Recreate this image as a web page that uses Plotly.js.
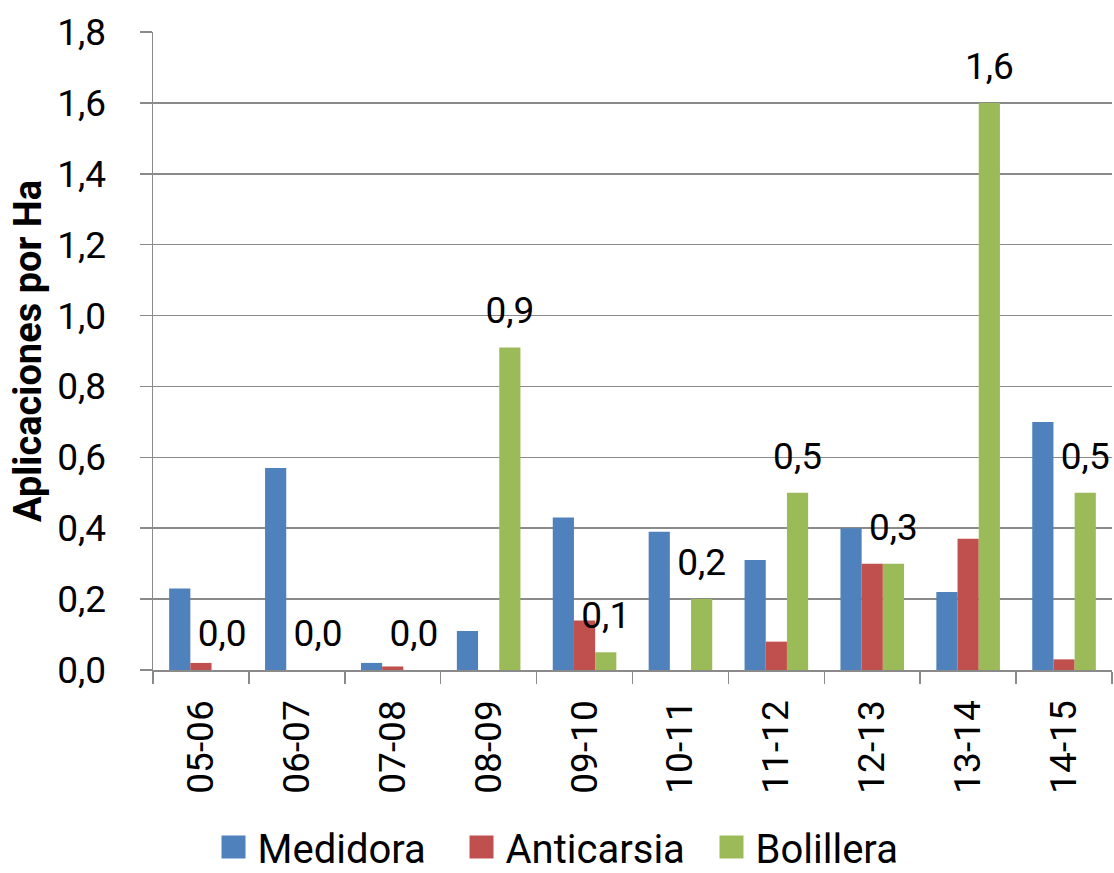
<!DOCTYPE html>
<html>
<head>
<meta charset="utf-8">
<script src="https://cdn.plot.ly/plotly-3.0.1.min.js"></script>
<style>
  html, body { margin: 0; padding: 0; background: #ffffff; }
  #chart { width: 1114px; height: 873px; }
</style>
</head>
<body>
<div id="chart"></div>
<script>
// ---- data ----
const categories = ['05-06', '06-07', '07-08', '08-09', '09-10', '10-11', '11-12', '12-13', '13-14', '14-15'];
const medidora   = [0.23, 0.57, 0.02, 0.11, 0.43, 0.39, 0.31, 0.40, 0.22, 0.70];
const anticarsia = [0.02, 0.00, 0.01, 0.00, 0.14, 0.00, 0.08, 0.30, 0.37, 0.03];
const bolillera  = [0.00, 0.00, 0.00, 0.91, 0.05, 0.20, 0.50, 0.30, 1.60, 0.50];
const seriesNames = ['Medidora', 'Anticarsia', 'Bolillera'];
const yTickValues = [0, 0.2, 0.4, 0.6, 0.8, 1.0, 1.2, 1.4, 1.6, 1.8];

const FONT = 'Roboto, "Noto Sans", "Liberation Sans", sans-serif';
const GRID = '#8a8a8a';

const traces = [
  {
    type: 'bar', name: seriesNames[0], x: categories, y: medidora,
    marker: { color: '#4F81BD', line: { width: 0 } },
    legendwidth: 203, hoverinfo: 'x+y'
  },
  {
    type: 'bar', name: seriesNames[1], x: categories, y: anticarsia,
    marker: { color: '#C0504D', line: { width: 0 } },
    legendwidth: 205, hoverinfo: 'x+y'
  },
  {
    type: 'bar', name: seriesNames[2], x: categories, y: bolillera,
    marker: { color: '#9BBB59', line: { width: 0 } },
    legendwidth: 140,
    texttemplate: '%{y:.1f}', textposition: 'outside', constraintext: 'none',
    cliponaxis: false,
    textfont: { family: FONT, size: 37, color: '#000000' },
    hoverinfo: 'x+y'
  }
];

const layout = {
  width: 1114, height: 873,
  margin: { l: 153, r: 2, t: 32, b: 203, pad: 0 },
  paper_bgcolor: '#ffffff', plot_bgcolor: '#ffffff',
  separators: ',.',
  font: { family: FONT, size: 37, color: '#000000' },
  barmode: 'group', bargap: 0.337, bargroupgap: 0,
  showlegend: true,
  legend: {
    orientation: 'h', xref: 'container', yref: 'container',
    x: 0.5018, xanchor: 'center', y: 1 - 847 / 873, yanchor: 'middle',
    font: { family: FONT, size: 40, color: '#000000' },
    itemwidth: 30, traceorder: 'normal', bgcolor: 'rgba(0,0,0,0)'
  },
  xaxis: {
    type: 'category', automargin: false,
    showline: true, linecolor: GRID, linewidth: 1.5,
    showgrid: false, zeroline: false,
    ticks: 'outside', tickson: 'boundaries', ticklen: 12, tickwidth: 1.5, tickcolor: GRID,
    tickangle: -90, ticklabelstandoff: 14,
    tickfont: { family: FONT, size: 37, color: '#000000' }
  },
  yaxis: {
    range: [0, 1.8], automargin: false, fixedrange: true,
    tickvals: yTickValues, tickformat: '.1f',
    showline: true, linecolor: GRID, linewidth: 1.5,
    showgrid: true, gridcolor: GRID, gridwidth: 1.5, zeroline: false,
    ticks: 'outside', ticklen: 12, tickwidth: 1.5, tickcolor: GRID,
    ticklabelstandoff: 26,
    tickfont: { family: FONT, size: 37, color: '#000000' },
    title: {
      text: 'Aplicaciones por Ha', standoff: 4,
      font: { family: FONT, size: 38, color: '#000000', weight: 'bold' }
    }
  }
};

Plotly.newPlot('chart', traces, layout, { displayModeBar: false, staticPlot: true }).then(function (gd) {
  // enlarge legend swatches to match the reference squares
  gd.querySelectorAll('.legend .legendpoints path').forEach(function (p) {
    p.removeAttribute('transform');
    p.setAttribute('d', 'M28,11.5H4V-11.5H28Z');
  });
  // lift the data labels a little, like the padded labels of the reference
  gd.querySelectorAll('.barlayer text.bartext').forEach(function (t) {
    const tr = t.getAttribute('transform') || '';
    t.setAttribute('transform', 'translate(0,-12) ' + tr);
  });
});
</script>
</body>
</html>
